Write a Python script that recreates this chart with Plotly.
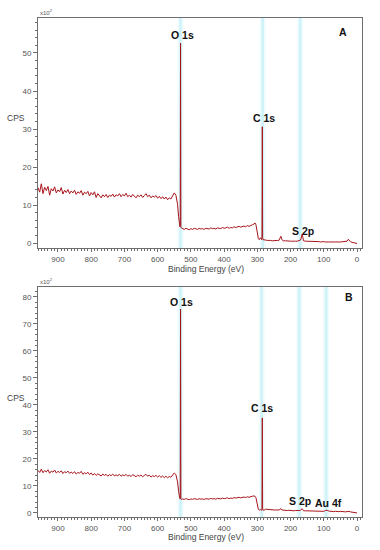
import plotly.graph_objects as go

# ---------------- data ----------------
binding_energy = [
    960, 955, 950, 945, 940, 935, 930, 925, 920, 915,
    910, 905, 900, 895, 890, 885, 880, 875, 870, 865,
    860, 855, 850, 845, 840, 835, 830, 825, 820, 815,
    810, 805, 800, 795, 790, 785, 780, 775, 770, 765,
    760, 755, 750, 745, 740, 735, 730, 725, 720, 715,
    710, 705, 700, 695, 690, 685, 680, 675, 670, 665,
    660, 655, 650, 645, 640, 635, 630, 625, 620, 615,
    610, 605, 600, 595, 590, 585, 580, 575, 570, 565,
    560, 555,
    550, 545, 540, 537, 535, 533, 532, 531.5, 531, 530.5, 530, 528,
    525, 520, 515, 510, 505, 500, 495, 490, 485, 480,
    475, 470, 465, 460, 455, 450, 445, 440, 435, 430,
    425, 420, 415, 410, 405, 400, 395, 390, 385, 380,
    375, 370, 365, 360, 355, 350, 345, 340, 335, 330,
    325, 320, 315, 310,
    307, 304, 300, 297, 294, 291, 289, 287, 286, 285, 284.5, 284, 283, 280,
    275, 270, 265, 260, 255, 250, 245, 240, 235,
    232, 229, 226, 222,
    215, 210, 205, 200, 195, 190, 185, 180, 175,
    170, 167, 165, 163, 161,
    155, 150, 145, 140, 135, 130, 125, 120, 115, 110,
    105, 100, 95, 90, 85, 80, 75, 70, 65, 60,
    55, 50, 45, 40, 35, 30,
    26, 24, 20, 15, 10, 5, 0,
]

# counts (x10^2 CPS), panel A
cps_A = [
    14.6, 13.4, 15.6, 13.0, 14.7, 13.8, 14.9, 12.6, 14.3, 13.7,
    14.8, 13.2, 14.0, 13.5, 14.6, 12.9, 13.9, 13.3, 14.1, 13.0,
    13.7, 13.2, 13.9, 12.8, 13.5, 13.1, 13.8, 12.6, 13.4, 13.0,
    13.6, 12.4, 13.3, 12.7, 13.5, 12.0, 13.0, 12.3, 11.9, 12.7,
    12.2, 12.8, 12.0, 12.6, 12.3, 12.9, 12.1, 12.7, 12.4, 13.0,
    12.2, 12.8, 12.4, 13.1, 12.2, 12.6, 12.1, 12.8, 12.3, 11.9,
    12.6, 12.2, 12.7, 12.0, 12.5, 13.0, 12.2, 12.6, 11.9, 12.4,
    12.1, 12.5, 11.8, 12.3, 11.7, 12.2, 11.6, 12.1, 11.4, 11.9,
    11.6, 12.4,
    13.2, 12.6, 10.2, 7.0, 5.2, 4.3, 4.6, 50.8, 52.6, 4.4, 4.1, 4.0,
    3.8, 3.6, 3.9, 3.7, 3.5, 3.8, 3.6, 3.9, 3.7, 3.6,
    3.9, 3.7, 3.8, 3.6, 3.9, 3.8, 3.7, 4.0, 3.8, 3.9,
    3.7, 4.0, 3.9, 3.8, 4.1, 3.9, 4.0, 4.2, 3.9, 4.1,
    4.0, 4.3, 4.1, 4.2, 4.4, 4.2, 4.3, 4.5, 4.3, 4.6,
    4.4, 4.7, 4.8, 5.0,
    5.3, 4.8, 2.5, 1.2, 0.9, 1.4, 1.1, 0.9, 1.6, 30.6, 28.8, 1.4, 0.9, 0.8,
    0.8, 0.7, 0.8, 0.7, 0.6, 0.7, 0.6, 0.7, 0.7,
    1.1, 1.8, 0.9, 0.6,
    0.6, 0.5, 0.6, 0.5, 0.5, 0.6, 0.5, 0.5, 0.6,
    0.8, 1.6, 2.4, 1.5, 0.6,
    0.5, 0.5, 0.4, 0.5, 0.4, 0.4, 0.5, 0.4, 0.4, 0.3,
    0.4, 0.4, 0.3, 0.4, 0.3, 0.3, 0.4, 0.3, 0.3, 0.4,
    0.3, 0.3, 0.4, 0.3, 0.4, 0.5,
    1.0, 0.8, 0.4, 0.2, 0.1, 0.0, -0.1,
]

# counts (x10^2 CPS), panel B
cps_B = [
    15.8, 15.0, 16.2, 14.9, 15.7, 15.2, 16.0, 14.7, 15.5, 15.1,
    15.9, 14.8, 15.4, 15.0, 15.6, 14.6, 15.3, 14.9, 15.5, 14.7,
    15.1, 14.6, 15.3, 14.4, 15.0, 14.7, 15.4, 14.3, 14.9, 14.5,
    15.1, 14.2, 14.8, 14.0, 14.6, 13.9, 14.5, 14.1, 13.7, 14.4,
    13.9, 14.3, 13.6, 14.2, 13.8, 14.4, 13.7, 14.1, 13.8, 14.3,
    13.6, 14.1, 13.8, 14.3, 13.6, 14.0, 13.5, 14.2, 13.7, 13.4,
    14.0, 13.6, 14.1, 13.4, 13.9, 14.3, 13.6, 14.0, 13.3, 13.8,
    13.5, 13.9, 13.3, 13.8, 13.2, 13.7, 13.1, 13.6, 13.0, 13.5,
    13.2, 13.9,
    14.8, 14.2, 11.5, 8.0, 6.0, 5.3, 5.6, 50.3, 75.5, 5.4, 5.1, 5.0,
    5.2, 5.0, 5.3, 5.1, 4.9, 5.2, 5.0, 5.3, 5.1, 5.0,
    5.3, 5.1, 5.2, 5.0, 5.3, 5.2, 5.1, 5.4, 5.2, 5.3,
    5.1, 5.4, 5.3, 5.2, 5.5, 5.3, 5.4, 5.6, 5.3, 5.5,
    5.4, 5.7, 5.5, 5.6, 5.8, 5.6, 5.7, 5.9, 5.7, 6.0,
    5.8, 6.1, 6.2, 6.3,
    6.2, 5.6, 3.0, 1.4, 1.0, 1.3, 1.1, 1.0, 1.5, 35.2, 33.0, 1.5, 1.1, 1.0,
    1.4, 1.3, 1.3, 1.2, 1.2, 1.1, 1.1, 1.0, 1.1,
    1.3, 1.6, 1.1, 1.0,
    1.0, 0.9, 1.0, 0.9, 0.9, 0.8, 0.9, 0.8, 0.9,
    1.0, 1.4, 1.6, 1.2, 0.8,
    0.8, 0.8, 0.7, 0.8, 0.7, 0.7, 0.8, 0.7, 0.7, 0.6,
    0.7, 0.6, 0.9, 1.0, 0.7, 0.6, 0.6, 0.5, 0.6, 0.5,
    0.5, 0.6, 0.5, 0.5, 0.4, 0.5,
    0.7, 0.6, 0.4, 0.3, 0.2, 0.1, 0.0,
]

assert len(binding_energy) == len(cps_A) == len(cps_B)

x_ticks = [900, 800, 700, 600, 500, 400, 300, 200, 100, 0]

# peak labels: (text, energy, cps)
labels_A = [("O 1s", 524, 54.7), ("C 1s", 280, 32.9), ("S 2p", 163, 3.3)]
labels_B = [("O 1s", 527, 78.1), ("C 1s", 287, 38.9), ("S 2p", 172, 4.4), ("Au 4f", 87, 3.7)]
bands_A = [531, 284, 171]
bands_B = [531, 287, 174, 93]

# ---------------- figure ----------------
RED = "#a8141c"
AXC = "#6e6e6e"
TICKF = dict(family="Liberation Sans, Arial, sans-serif", size=8, color="#555555")

fig = go.Figure()
fig.add_trace(go.Scatter(x=binding_energy, y=cps_A, mode="lines",
                         line=dict(color=RED, width=1), xaxis="x", yaxis="y",
                         showlegend=False, hoverinfo="skip"))
fig.add_trace(go.Scatter(x=binding_energy, y=cps_B, mode="lines",
                         line=dict(color=RED, width=1), xaxis="x2", yaxis="y2",
                         showlegend=False, hoverinfo="skip"))

xcommon = dict(range=[960, -15], tickvals=x_ticks, ticks="outside", ticklen=3,
               tickcolor=AXC, showline=True, linecolor=AXC, linewidth=1, mirror=True,
               showgrid=False, zeroline=False, tickfont=TICKF,
               minor=dict(dtick=10, ticks="outside", ticklen=2, tickcolor=AXC))
ycommon = dict(dtick=10, ticks="outside", ticklen=4, tickcolor=AXC, showline=True,
               linecolor=AXC, linewidth=1, mirror=True, showgrid=False, zeroline=False,
               tickfont=TICKF,
               minor=dict(dtick=2, ticks="outside", ticklen=2, tickcolor=AXC))

fig.update_layout(
    width=380, height=550,
    margin=dict(l=38, r=18, t=18, b=33),
    paper_bgcolor="white", plot_bgcolor="white",
    xaxis=dict(domain=[0, 1], anchor="y", **xcommon),
    yaxis=dict(domain=[0.539, 1.0], anchor="x", range=[-1.3, 59.2], tick0=0, **ycommon),
    xaxis2=dict(domain=[0, 1], anchor="y2", **xcommon),
    yaxis2=dict(domain=[0.0, 0.461], anchor="x2", range=[-1.5, 83.7], tick0=0, **ycommon),
)

shapes = []
for xs, xr, yr in ((bands_A, "x", "y"), (bands_B, "x2", "y2")):
    for b in xs:
        shapes.append(dict(type="rect", xref=xr, yref=yr + " domain", x0=b + 9, x1=b - 9,
                           y0=0, y1=1, fillcolor="#effbfd", line=dict(width=0), layer="below"))
        shapes.append(dict(type="rect", xref=xr, yref=yr + " domain", x0=b + 4, x1=b - 4,
                           y0=0, y1=1, fillcolor="#cff3f8", line=dict(width=0), layer="below"))
fig.update_layout(shapes=shapes)

ann = []
BOLD = dict(family="Liberation Sans, Arial, sans-serif", size=10.5, color="#111111")
for labs, xr, yr in ((labels_A, "x", "y"), (labels_B, "x2", "y2")):
    for t, xv, yv in labs:
        ann.append(dict(text="<b>%s</b>" % t, x=xv, y=yv, xref=xr, yref=yr,
                        showarrow=False, font=BOLD, xanchor="center", yanchor="middle"))
for letter, xr, yr, xv, yv in (("A", "x", "y", 42, 55.5), ("B", "x2", "y2", 24, 80)):
    ann.append(dict(text="<b>%s</b>" % letter, x=xv, y=yv, xref=xr, yref=yr,
                    showarrow=False, font=BOLD, xanchor="center", yanchor="middle"))

LAB = dict(family="Liberation Sans, Arial, sans-serif", size=8.5, color="#444444")
for xr, yr, cy, ty in (("x", "y", 0.565, -0.093), ("x2", "y2", 0.517, -0.089)):
    ann.append(dict(text="Binding Energy (eV)", x=0.52, y=ty, xref=xr + " domain",
                    yref=yr + " domain", showarrow=False, font=LAB,
                    xanchor="center", yanchor="middle"))
    ann.append(dict(text="CPS", x=-0.068, y=cy, xref=xr + " domain", yref=yr + " domain",
                    showarrow=False, font=LAB, xanchor="center", yanchor="middle"))
    ann.append(dict(text="x10<sup>2</sup>", x=0.0, y=1.0, xref=xr + " domain",
                    yref=yr + " domain", showarrow=False,
                    font=dict(family="Liberation Sans, Arial, sans-serif", size=6, color="#555555"),
                    xanchor="left", yanchor="bottom"))
fig.update_layout(annotations=ann)

fig.write_html("out.html", config={"displayModeBar": False},
               post_script="document.body.style.margin='0';document.body.style.padding='0';")
